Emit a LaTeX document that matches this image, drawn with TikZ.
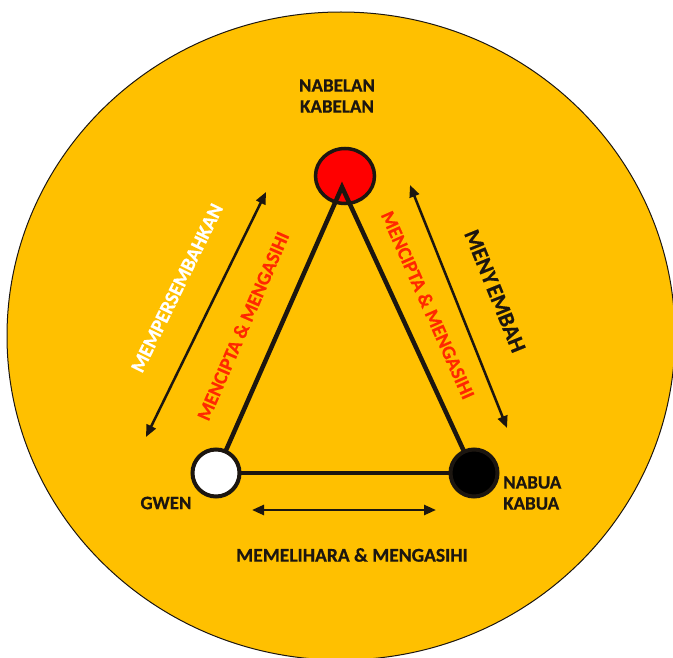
\documentclass[tikz,border=0pt]{standalone}
\usepackage{fontspec}
\setmainfont{Carlito}[BoldFeatures={FakeBold=0.6}]
\usetikzlibrary{arrows.meta,shapes.geometric}
\definecolor{gold}{RGB}{255,192,0}
\definecolor{txtred}{RGB}{255,40,0}
\definecolor{ink}{RGB}{28,22,16}
\pgfdeclarelayer{back}
\pgfdeclarelayer{front}
\pgfsetlayers{back,main,front}
\begin{document}
\begin{tikzpicture}[x=1pt,y=-1pt,
  lbl/.style={font=\fontsize{19}{21}\selectfont\bfseries, text=ink, inner sep=0pt},
  big/.style={font=\fontsize{22.5}{24}\selectfont\bfseries},
  mid/.style={font=\fontsize{20}{22}\selectfont\bfseries},
  side/.style={line width=4.5pt, draw=ink, line join=miter},
  dbl/.style={line width=2.5pt, draw=ink, {Triangle[length=12pt,width=10pt]}-{Triangle[length=12pt,width=10pt]}},
  dot/.style={circle, draw=ink, line width=4pt, minimum size=47pt, inner sep=0pt}]
\useasboundingbox (0,0) rectangle (673,658);
\clip (0,0) rectangle (673,658);
\begin{pgfonlayer}{back}
\filldraw[fill=gold, draw=ink, line width=1pt] (341,336) ellipse [x radius=334, y radius=324];
\end{pgfonlayer}
\begin{pgfonlayer}{front}
\node[dot, fill=white] (gwen) at (216,473) {};
\node[dot, fill=black] (nabua) at (474,473) {};
\end{pgfonlayer}
\node[ellipse, draw=ink, line width=3.5pt, fill=red, minimum width=59pt, minimum height=55pt, inner sep=0pt] (nabelan) at (345,176) {};
\coordinate (apex) at (342,187);
\draw[side] (gwen.center) -- (apex) -- (nabua.center);
\draw[side] (gwen.center) -- (nabua.center);
% arrows
\coordinate (l1) at (146,437); \coordinate (l2) at (266,192);
\coordinate (r1) at (410,185); \coordinate (r2) at (507,428);
\coordinate (b1) at (252,510); \coordinate (b2) at (436,510);
\draw[dbl] (l1) -- (l2);
\draw[dbl] (r1) -- (r2);
\draw[dbl] (b1) -- (b2);
% labels
\node[lbl, align=center] (tnab) at (337,96) {NABELAN\\KABELAN};
\node[lbl, anchor=west, align=left] (tnabua) at (503,493) {NABUA\\KABUA};
\node[lbl] (tgwen) at (166,503) {GWEN};
\node[lbl, font=\fontsize{19.5}{21}\selectfont\bfseries] (tmem) at (352,555) {MEMELIHARA \& MENGASIHI};
\node[lbl, mid, text=white, rotate=63.9] (tpers) at (177,288) {MEMPERSEMBAHKAN};
\node[lbl, text=txtred, rotate=66.5, font=\fontsize{19.5}{21}\selectfont\bfseries] (tcipl) at (243,326) {MENCIPTA \& MENGASIHI};
\node[lbl, text=txtred, rotate=-66, font=\fontsize{19.5}{21}\selectfont\bfseries] (tcipr) at (428,305) {MENCIPTA \& MENGASIHI};
\node[lbl, big, rotate=-68] (tsem) at (495,291) {MENY\kern2pt EMBAH};
\end{tikzpicture}
\end{document}
